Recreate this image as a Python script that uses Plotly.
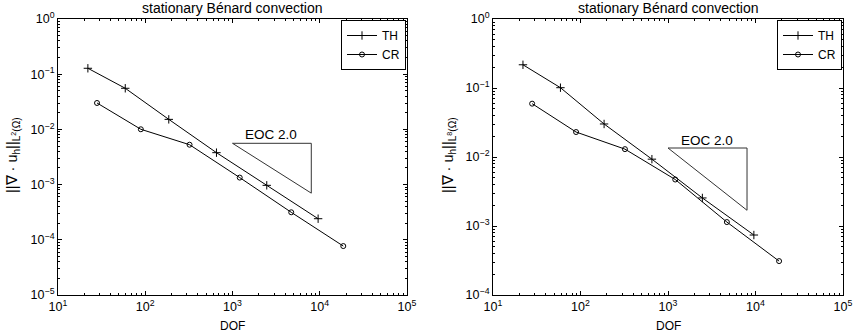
import plotly.graph_objects as go

# ---- data ----
dof_th = [22, 59, 186, 655, 2470, 9580]
dof_cr = [28, 89, 322, 1210, 4710, 18600]

l2_th = [0.128, 0.0556, 0.0152, 0.00379, 0.00097, 0.000241]
l2_cr = [0.0301, 0.01005, 0.00528, 0.00134, 0.000315, 7.7e-5]

linf_th = [0.217, 0.101, 0.0301, 0.0093, 0.00255, 0.00074]
linf_cr = [0.0593, 0.023, 0.013, 0.00472, 0.00114, 0.00031]

tri_x = [1000, 8000, 8000, 1000]
tri_l2_y = [0.0056, 0.0056, 0.0007, 0.0056]
tri_linf_y = [0.0135, 0.0135, 0.00169, 0.0135]

x_tickvals = [10, 100, 1000, 10000, 100000]
x_ticktext = ["10<sup>1</sup>", "10<sup>2</sup>", "10<sup>3</sup>", "10<sup>4</sup>", "10<sup>5</sup>"]
y1_tickvals = [1, 0.1, 0.01, 0.001, 0.0001, 0.00001]
y1_ticktext = ["10<sup>0</sup>", "10<sup>−1</sup>", "10<sup>−2</sup>", "10<sup>−3</sup>", "10<sup>−4</sup>", "10<sup>−5</sup>"]
y2_tickvals = [1, 0.1, 0.01, 0.001, 0.0001]
y2_ticktext = ["10<sup>0</sup>", "10<sup>−1</sup>", "10<sup>−2</sup>", "10<sup>−3</sup>", "10<sup>−4</sup>"]

title_text = "stationary Bénard convection"
ylab1 = "||∇ · u<sub>h</sub>||<sub>L<sup>2</sup>(Ω)</sub>"
ylab2 = "||∇ · u<sub>h</sub>||<sub>L<sup>8</sup>(Ω)</sub>"

FONT = "Liberation Sans, Arial, sans-serif"
W, H = 853, 336


def minor_vals(lo, hi):
    return [m * 10.0 ** e for e in range(lo, hi) for m in range(2, 10)]


fig = go.Figure()


def add_panel(xa, ya, legend, th, cr, tri_y):
    fig.add_trace(go.Scatter(x=dof_th, y=th, mode="lines+markers", name="TH",
                             xaxis=xa, yaxis=ya, legend=legend,
                             line=dict(color="black", width=1),
                             marker=dict(symbol="cross-thin-open", size=6,
                                         line=dict(color="black", width=1), color="black")))
    fig.add_trace(go.Scatter(x=dof_cr, y=cr, mode="lines+markers", name="CR",
                             xaxis=xa, yaxis=ya, legend=legend,
                             line=dict(color="black", width=1),
                             marker=dict(symbol="circle-open", size=5,
                                         line=dict(color="black", width=1), color="black")))
    fig.add_trace(go.Scatter(x=tri_x, y=tri_y, mode="lines", showlegend=False,
                             xaxis=xa, yaxis=ya, hoverinfo="skip",
                             line=dict(color="#333", width=1)))


add_panel("x", "y", "legend", l2_th, l2_cr, tri_l2_y)
add_panel("x2", "y2", "legend2", linf_th, linf_cr, tri_linf_y)

x1d = [58 / W, 407 / W]
x2d = [493 / W, 843 / W]
yd = [1 - 295 / H, 1 - 19 / H]


def axis(minlo, minhi, **kw):
    d = dict(type="log", showline=True, linecolor="black", linewidth=1,
             mirror="allticks", ticks="inside", ticklen=4, tickcolor="black",
             showgrid=False, zeroline=False, automargin=False,
             minor=dict(ticks="inside", ticklen=2, tickcolor="black", showgrid=False,
                        tickmode="array", tickvals=minor_vals(minlo, minhi)),
             tickfont=dict(family=FONT, size=12.5, color="black"))
    d.update(kw)
    return d


fig.update_layout(
    width=W, height=H, margin=dict(l=0, r=0, t=0, b=0, pad=0, autoexpand=False),
    paper_bgcolor="white", plot_bgcolor="white",
    font=dict(family=FONT, size=12, color="black"),
    xaxis=axis(1, 5, domain=x1d, range=[1, 5], anchor="y", tickvals=x_tickvals, ticktext=x_ticktext),
    yaxis=axis(-5, 0, domain=yd, range=[-5, 0], anchor="x", tickvals=y1_tickvals, ticktext=y1_ticktext),
    xaxis2=axis(1, 5, domain=x2d, range=[1, 5], anchor="y2", tickvals=x_tickvals, ticktext=x_ticktext),
    yaxis2=axis(-4, 0, domain=yd, range=[-4, 0], anchor="x2", tickvals=y2_tickvals, ticktext=y2_ticktext),
    legend=dict(x=406 / W, y=1 - 20 / H, xanchor="right", yanchor="top",
                bordercolor="black", borderwidth=1, bgcolor="white",
                font=dict(family=FONT, size=12), tracegroupgap=0, itemwidth=30),
    legend2=dict(x=842 / W, y=1 - 20 / H, xanchor="right", yanchor="top",
                 bordercolor="black", borderwidth=1, bgcolor="white",
                 font=dict(family=FONT, size=12), tracegroupgap=0, itemwidth=30),
    showlegend=True,
)

ann = []
for cx in [(58 + 407) / 2, (493 + 843) / 2]:
    ann.append(dict(text=title_text, x=cx / W, y=1 - 8 / H, xref="paper", yref="paper",
                    showarrow=False, font=dict(size=14), xanchor="center", yanchor="middle"))
    ann.append(dict(text="DOF", x=cx / W, y=1 - 326 / H, xref="paper", yref="paper",
                    showarrow=False, font=dict(size=12), xanchor="center", yanchor="middle"))
ann.append(dict(text=ylab1, x=13 / W, y=1 - 155 / H, xref="paper", yref="paper", textangle=-90,
                showarrow=False, font=dict(size=14.5), xanchor="center", yanchor="middle"))
ann.append(dict(text=ylab2, x=449 / W, y=1 - 155 / H, xref="paper", yref="paper", textangle=-90,
                showarrow=False, font=dict(size=14.5), xanchor="center", yanchor="middle"))
ann.append(dict(text="EOC 2.0", x=3.44, y=-2.10, xref="x", yref="y", showarrow=False,
                font=dict(size=13.5), xanchor="center", yanchor="middle"))
ann.append(dict(text="EOC 2.0", x=3.444, y=-1.754, xref="x2", yref="y2", showarrow=False,
                font=dict(size=13.5), xanchor="center", yanchor="middle"))
fig.update_layout(annotations=ann)

fig.write_html("out.html",
               post_script="document.body.style.margin='0';document.body.style.overflow='hidden';")
